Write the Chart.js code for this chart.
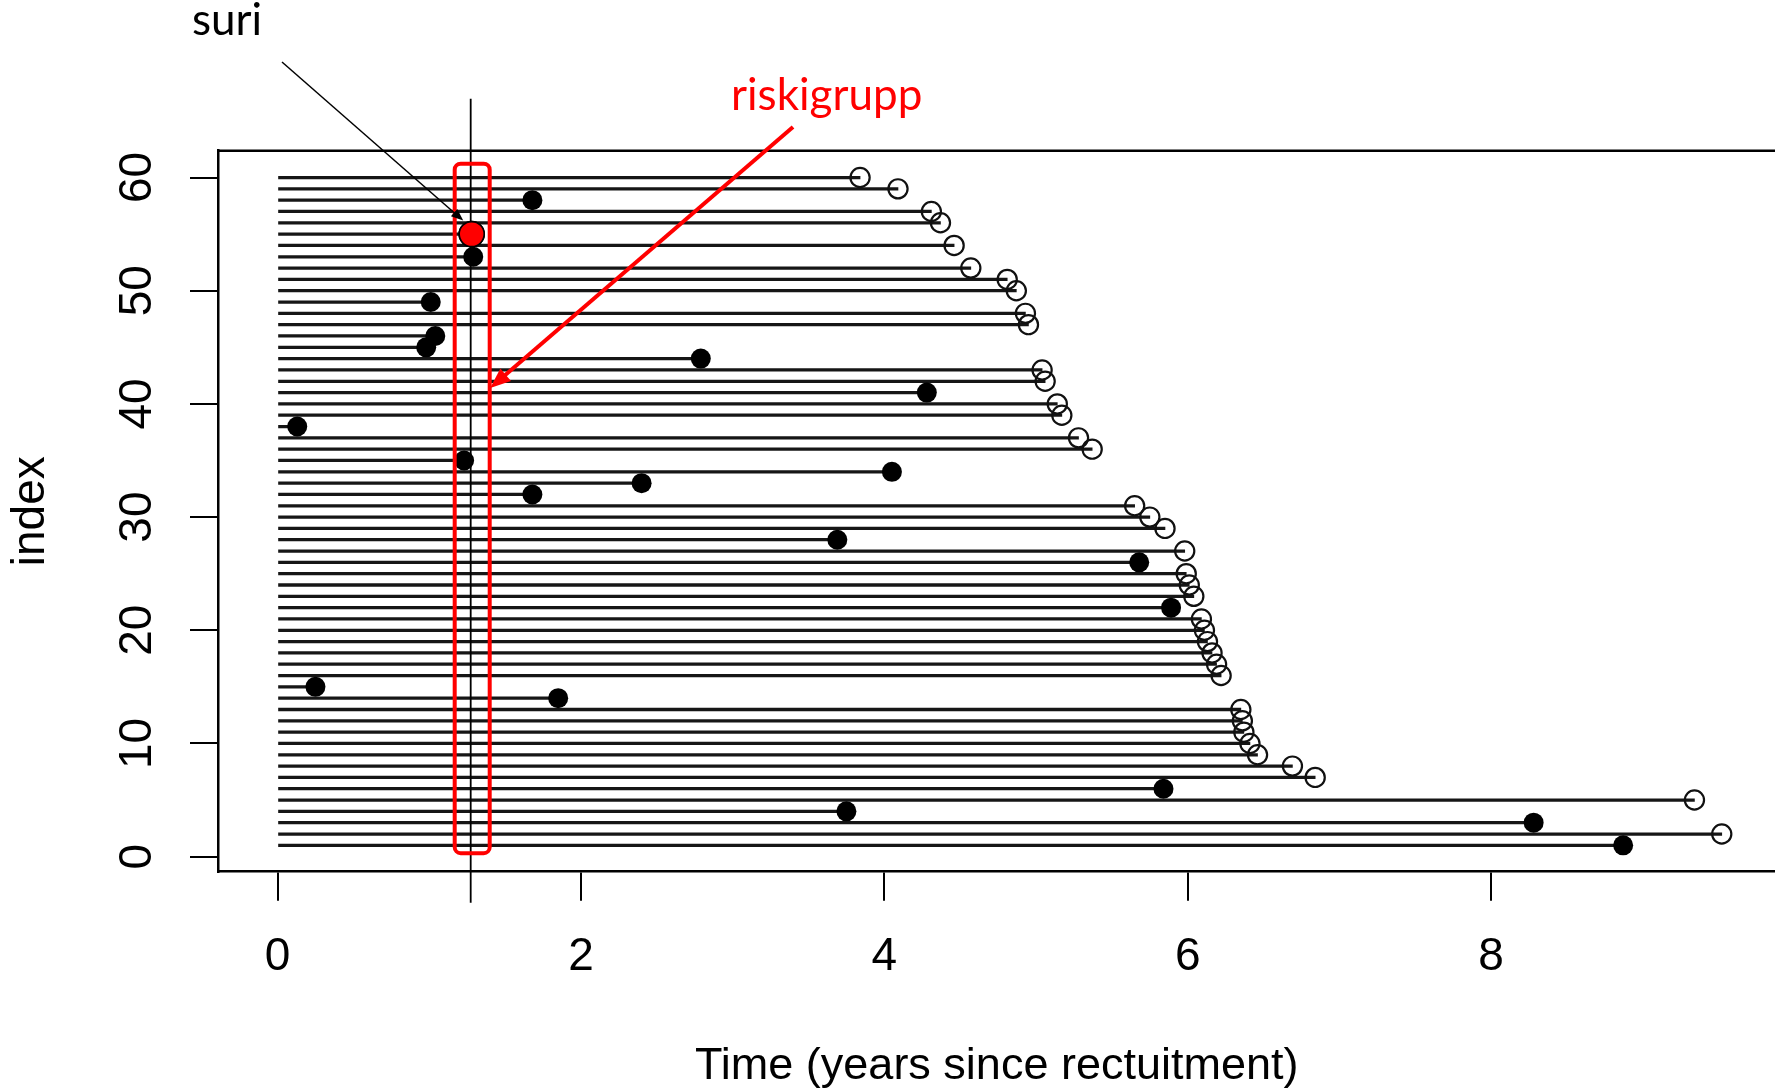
<!DOCTYPE html>
<html>
<head>
<meta charset="utf-8">
<title>index vs time</title>
<script src="https://cdn.jsdelivr.net/npm/chart.js@4.4.1/dist/chart.umd.min.js"></script>
<style>
  html, body { margin: 0; padding: 0; background: #ffffff; overflow: hidden; }
  canvas { display: block; }
</style>
</head>
<body>
<canvas id="chart" width="1775" height="1091"></canvas>
<script>
// Subjects (row index) and their follow-up
const subjects = [
   1,  2,  3,  4,  5,  6,  7,  8,  9, 10,
  11, 12, 13, 14, 15, 16, 17, 18, 19, 20,
  21, 22, 23, 24, 25, 26, 27, 28, 29, 30,
  31, 32, 33, 34, 35, 36, 37, 38, 39, 40,
  41, 42, 43, 44, 45, 46, 47, 48, 49, 50,
  51, 52, 53, 54, 55, 56, 57, 58, 59, 60
];
// years since recruitment at end of follow-up
const times = [
  8.87, 9.52, 8.28, 3.75, 9.34, 5.84, 6.84, 6.69, 6.46, 6.41,
  6.37, 6.36, 6.35, 1.85, 0.25, 6.22, 6.19, 6.16, 6.13, 6.11,
  6.09, 5.89, 6.04, 6.01, 5.99, 5.68, 5.98, 3.69, 5.85, 5.75,
  5.65, 1.68, 2.40, 4.05, 1.23, 5.37, 5.28, 0.13, 5.17, 5.14,
  4.28, 5.06, 5.04, 2.79, 0.98, 1.04, 4.95, 4.93, 1.01, 4.87,
  4.81, 4.57, 1.29, 4.46, 1.28, 4.37, 4.31, 1.68, 4.09, 3.84
];
// 1 = event (filled dot), 0 = censored (open circle)
const status = [
  1, 0, 1, 1, 0, 1, 0, 0, 0, 0,
  0, 0, 0, 1, 1, 0, 0, 0, 0, 0,
  0, 1, 0, 0, 0, 1, 0, 1, 0, 0,
  0, 1, 1, 1, 1, 0, 0, 1, 0, 0,
  1, 0, 0, 1, 1, 1, 0, 0, 1, 0,
  0, 0, 1, 0, 1, 0, 0, 1, 0, 0
];
const xTicks = [0, 2, 4, 6, 8];
const yTicks = [0, 10, 20, 30, 40, 50, 60];
const highlighted = 55;          // subject labelled "suri"
const suriLabel = 'suri';
const riskLabel = 'riskigrupp';
const xTitle = 'Time (years since rectuitment)';
const yTitle = 'index';

const axisFont = 'Liberation Sans, Arial, Helvetica, sans-serif';
const noteFont = 'Lato, "Open Sans", sans-serif';

const segments = subjects.map((s, k) => ({ x: [0, times[k]], y: s }));
const censored = subjects.filter((s, k) => status[k] === 0).map(s => ({ x: times[s - 1], y: s }));
const events = subjects.filter((s, k) => status[k] === 1).map(s => ({ x: times[s - 1], y: s }));
const suri = [{ x: times[highlighted - 1], y: highlighted }];

function drawArrow(ctx, x0, y0, x1, y1, head, width, color) {
  const ang = Math.atan2(y1 - y0, x1 - x0);
  ctx.strokeStyle = color;
  ctx.fillStyle = color;
  ctx.lineWidth = width;
  ctx.beginPath();
  ctx.moveTo(x0, y0);
  ctx.lineTo(x1 - head * 0.8 * Math.cos(ang), y1 - head * 0.8 * Math.sin(ang));
  ctx.stroke();
  ctx.beginPath();
  ctx.moveTo(x1, y1);
  ctx.lineTo(x1 - head * Math.cos(ang - 0.38), y1 - head * Math.sin(ang - 0.38));
  ctx.lineTo(x1 - head * Math.cos(ang + 0.38), y1 - head * Math.sin(ang + 0.38));
  ctx.closePath();
  ctx.fill();
}

// frame top edge, risk-set line/box, labels and arrows
const overlay = {
  id: 'overlay',
  afterDatasetsDraw(chart) {
    const { ctx, chartArea: a, scales: { x, y } } = chart;
    ctx.save();
    ctx.lineCap = 'butt';

    ctx.strokeStyle = '#000';
    ctx.lineWidth = 2.5;
    ctx.beginPath();
    ctx.moveTo(a.left, a.top);
    ctx.lineTo(a.right, a.top);
    ctx.stroke();

    const sx = x.getPixelForValue(times[highlighted - 1]);
    const sy = y.getPixelForValue(highlighted);

    // vertical line at the event time
    ctx.strokeStyle = '#000';
    ctx.lineWidth = 1.8;
    ctx.beginPath();
    ctx.moveTo(sx - 1, a.top - 52);
    ctx.lineTo(sx - 1, a.bottom + 31);
    ctx.stroke();

    // risk-set box
    ctx.strokeStyle = '#ff0000';
    ctx.lineWidth = 4;
    const bx = sx - 17;
    const bt = a.top + 13;
    const bb = a.bottom - 18.5;
    ctx.beginPath();
    ctx.roundRect(bx, bt, 35, bb - bt, 6);
    ctx.stroke();

    // highlighted event on top
    chart.getDatasetMeta(3).data.forEach(el => el.draw(ctx, a));

    // arrows
    drawArrow(ctx, 282, 62, sx - 8.5, sy - 13.5, 13, 1.5, '#000');
    drawArrow(ctx, 793, 127, bx + 35 + 0.5, y.getPixelForValue(41.4), 22, 4, '#ff0000');

    // labels
    ctx.textBaseline = 'alphabetic';
    ctx.textAlign = 'left';
    ctx.font = '44px ' + noteFont;
    ctx.fillStyle = '#000';
    ctx.fillText(suriLabel, 192, 35);
    ctx.fillStyle = '#ff0000';
    ctx.fillText(riskLabel, 731, 110);
    ctx.restore();
  }
};

new Chart(document.getElementById('chart'), {
  type: 'bar',
  data: {
    datasets: [
      {
        type: 'bar',
        data: segments,
        backgroundColor: '#161616',
        borderWidth: 0,
        barThickness: 2.6,
        order: 4
      },
      {
        type: 'scatter',
        data: censored,
        pointStyle: 'circle',
        pointRadius: 9.6,
        pointBorderWidth: 2.2,
        pointBorderColor: '#111',
        pointBackgroundColor: 'rgba(0,0,0,0)',
        order: 3
      },
      {
        type: 'scatter',
        data: events,
        pointStyle: 'circle',
        pointRadius: 10,
        pointBorderWidth: 0,
        pointBackgroundColor: '#000',
        order: 2
      },
      {
        type: 'scatter',
        data: suri,
        pointStyle: 'circle',
        pointRadius: 12.5,
        pointBorderWidth: 1.6,
        pointBorderColor: '#000',
        pointBackgroundColor: '#ff0000',
        order: 1
      }
    ]
  },
  options: {
    indexAxis: 'y',
    responsive: false,
    animation: false,
    events: [],
    layout: { autoPadding: false, padding: { top: 150.7, left: 0, right: 0, bottom: 0 } },
    plugins: { legend: { display: false }, tooltip: { enabled: false } },
    scales: {
      x: {
        type: 'linear',
        min: -0.389,
        max: 9.871,
        offset: false,
        afterBuildTicks: s => { s.ticks = xTicks.map(v => ({ value: v })); },
        afterFit: s => { s.height = 219.3; s.paddingLeft = 0; s.paddingRight = 0; },
        grid: { drawOnChartArea: false, drawTicks: true, tickLength: 29, color: '#000', lineWidth: 2, offset: false },
        border: { display: true, color: '#000', width: 2.5 },
        ticks: {
          autoSkip: false, maxRotation: 0, minRotation: 0, padding: 29.4, color: '#000',
          font: { family: axisFont, size: 46, lineHeight: 1.2 }
        },
        title: {
          display: true, text: xTitle, color: '#000',
          font: { family: axisFont, size: 45, lineHeight: 1.0 },
          padding: { top: 0, bottom: 1.5 }
        }
      },
      y: {
        type: 'linear',
        min: -1.33,
        max: 62.37,
        offset: false,
        afterBuildTicks: s => { s.ticks = yTicks.map(v => ({ value: v })); },
        afterFit: s => { s.width = 218.5; },
        grid: { drawOnChartArea: false, drawTicks: true, tickLength: 28.5, color: '#000', lineWidth: 2, offset: false },
        border: { display: true, color: '#000', width: 2.5 },
        ticks: {
          autoSkip: false, minRotation: 90, maxRotation: 90, crossAlign: 'center', padding: 26.2, color: '#000',
          font: { family: axisFont, size: 46, lineHeight: 1.2 }
        },
        title: {
          display: true, text: yTitle, color: '#000',
          font: { family: axisFont, size: 46, lineHeight: 1.0 },
          padding: { top: 8.8, bottom: 0 }
        }
      }
    }
  },
  plugins: [overlay]
});
</script>
</body>
</html>
